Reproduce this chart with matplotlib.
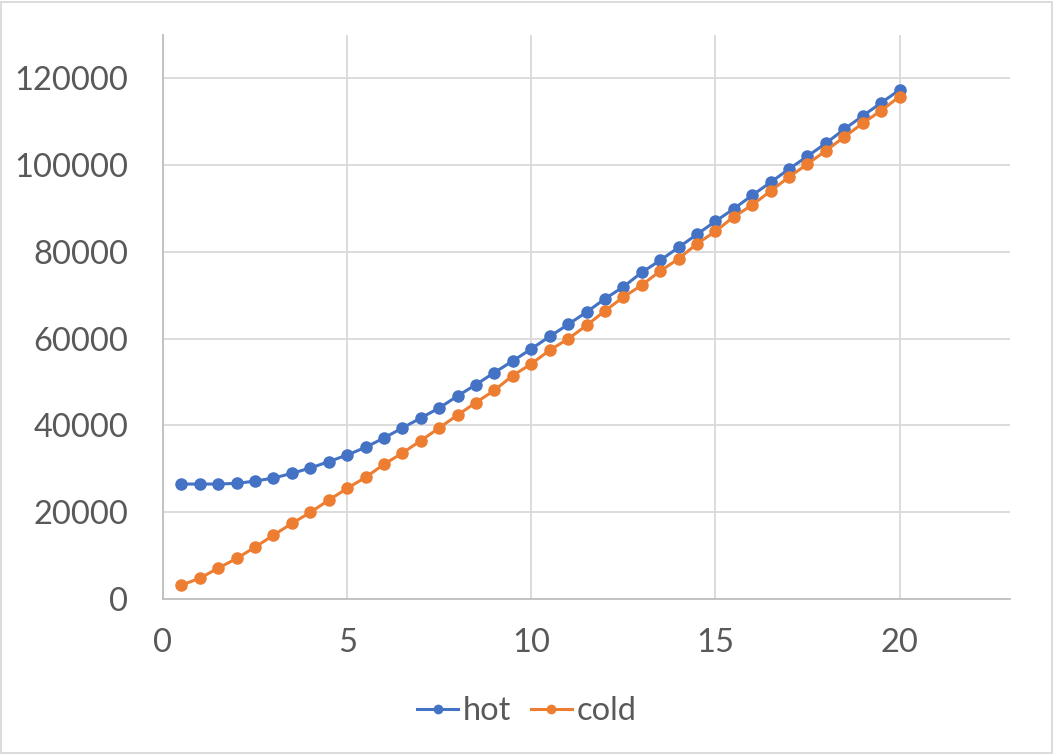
import matplotlib
matplotlib.use("Agg")
import matplotlib.pyplot as plt
from matplotlib.patches import Rectangle

x = [0.5, 1.0, 1.5, 2.0, 2.5, 3.0, 3.5, 4.0, 4.5, 5.0,
     5.5, 6.0, 6.5, 7.0, 7.5, 8.0, 8.5, 9.0, 9.5, 10.0,
     10.5, 11.0, 11.5, 12.0, 12.5, 13.0, 13.5, 14.0, 14.5, 15.0,
     15.5, 16.0, 16.5, 17.0, 17.5, 18.0, 18.5, 19.0, 19.5, 20.0]
hot = [26500, 26500, 26500, 26650, 27180, 27880, 28960, 30190, 31660, 33190,
       34960, 37110, 39420, 41720, 44030, 46800, 49430, 52200, 54880, 57650,
       60510, 63280, 66120, 69190, 71950, 75280, 78050, 81050, 84050, 87050,
       89950, 93050, 96050, 99120, 102050, 105050, 108280, 111350, 114350, 117350]
cold = [3190, 4800, 7110, 9350, 11950, 14720, 17420, 19960, 22800, 25500,
        28040, 31040, 33650, 36500, 39420, 42420, 45280, 48120, 51510, 54190,
        57350, 59950, 63050, 66420, 69580, 72350, 75580, 78420, 81880, 84740,
        88110, 90810, 94040, 97270, 100270, 103340, 106500, 109660, 112570, 115800]
x_ticks = [0, 5, 10, 15, 20]
y_ticks = [0, 20000, 40000, 60000, 80000, 100000, 120000]

plt.rcParams['font.family'] = ['Lato', 'DejaVu Sans']

fig = plt.figure(figsize=(10.54, 7.54), dpi=100)
ax = fig.add_axes([163/1054, 1 - 599/754, (1010-163)/1054, (599-35)/754])

ax.plot(x, hot, color='#4472C4', lw=2.2, marker='o', ms=8, label='hot', zorder=3)
ax.plot(x, cold, color='#ED7D31', lw=2.2, marker='o', ms=8, label='cold', zorder=3)

ax.set_xlim(0, 23)
ax.set_ylim(0, 130000)
ax.set_xticks(x_ticks)
ax.set_yticks(y_ticks)
ax.set_xticklabels([str(v) for v in x_ticks])
ax.set_yticklabels([str(v) for v in y_ticks])
ax.grid(True, color='#D9D9D9', lw=1.3, zorder=0)
ax.set_axisbelow(True)
for s in ['top', 'right']:
    ax.spines[s].set_visible(False)
for s in ['left', 'bottom']:
    ax.spines[s].set_color('#BFBFBF')
    ax.spines[s].set_linewidth(1.3)
ax.tick_params(length=0, labelsize=23.5, colors='#595959')
ax.tick_params(axis='x', pad=21)
ax.tick_params(axis='y', pad=25)

leg = fig.legend(loc='center', bbox_to_anchor=(0.5, 1 - 711/754), ncol=2, frameon=False,
                 fontsize=23.5, handlelength=1.25, handletextpad=0.15, columnspacing=0.6,
                 markerscale=0.75)
for t in leg.get_texts():
    t.set_color('#595959')

fig.patches.append(Rectangle((1/1054, 1/754), 1 - 3/1054, 1 - 3/754, transform=fig.transFigure,
                             fill=False, edgecolor='#D9D9D9', lw=1.3))

fig.savefig('out.png', dpi=100, facecolor='white')
